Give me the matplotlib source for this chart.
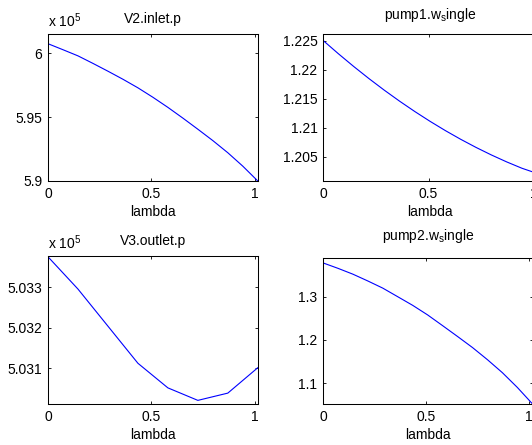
import matplotlib.pyplot as plt
from matplotlib.ticker import FixedLocator, FixedFormatter

plt.rcParams['font.family'] = ['Liberation Sans', 'DejaVu Sans']
plt.rcParams['mathtext.fontset'] = 'custom'
plt.rcParams['mathtext.rm'] = 'Liberation Sans'

# lambda samples
lam = [0, 0.0725, 0.145, 0.2175, 0.29, 0.3625, 0.435, 0.5075,
       0.58, 0.6525, 0.725, 0.7975, 0.87, 0.9425, 1.015]
lam_v3 = [0, 0.145, 0.29, 0.435, 0.58, 0.725, 0.87, 1.015]

# values
v2_inlet_p = [6.0074, 6.0027, 5.9979, 5.9920, 5.9859, 5.9796, 5.9729, 5.9655,
              5.9576, 5.9492, 5.9405, 5.9316, 5.9221, 5.9116, 5.9000]
pump1_w = [1.2251, 1.2228, 1.2206, 1.2185, 1.2165, 1.2146, 1.2128, 1.2111,
           1.2095, 1.2080, 1.2066, 1.2053, 1.2041, 1.2030, 1.2021]
v3_outlet_p = [5.03376, 5.03296, 5.03204, 5.03112, 5.03051, 5.03020, 5.03038, 5.03101]
pump2_w = [1.3777, 1.3652, 1.3517, 1.3360, 1.3195, 1.2997, 1.2798, 1.2577,
           1.2330, 1.2080, 1.1825, 1.1545, 1.1245, 1.0905, 1.0530]

fig = plt.figure(figsize=(5.32, 4.45), dpi=100)
W, H = 532.0, 445.0
FS = 10


def make_ax(l, r, t, b):
    return fig.add_axes([l / W, 1 - b / H, (r - l) / W, (b - t) / H])


panels = [
    (make_ax(48, 258, 34, 181), lam, v2_inlet_p, 'V2.inlet.p', (5.9, 6.015),
     [5.9, 5.95, 6.0], ['5.9', '5.95', '6'], True, 8),
    (make_ax(323, 537.5, 34, 181), lam, pump1_w, 'pump1.w$_\\mathregular{s}$ingle', (1.2008, 1.2262),
     [1.205, 1.21, 1.215, 1.22, 1.225], ['1.205', '1.21', '1.215', '1.22', '1.225'], False, 11),
    (make_ax(48, 258, 256, 404), lam_v3, v3_outlet_p, 'V3.outlet.p', (5.03011, 5.03378),
     [5.031, 5.032, 5.033], ['5.031', '5.032', '5.033'], True, 8),
    (make_ax(323, 532.5, 258, 404), lam, pump2_w, 'pump2.w$_\\mathregular{s}$ingle', (1.0523, 1.389),
     [1.1, 1.2, 1.3], ['1.1', '1.2', '1.3'], False, 13),
]

for ax, x, y, title, ylim, yt, ytl, sci, tpad in panels:
    ax.plot(x, y, color='#0000ff', lw=0.8)
    ax.set_xlim(0, 1.016)
    ax.set_ylim(*ylim)
    ax.xaxis.set_major_locator(FixedLocator([0, 0.5, 1]))
    ax.xaxis.set_major_formatter(FixedFormatter(['0', '0.5', '1']))
    ax.yaxis.set_major_locator(FixedLocator(yt))
    ax.yaxis.set_major_formatter(FixedFormatter(ytl))
    ax.tick_params(direction='in', top=True, right=True, length=2.5, width=0.6,
                   labelsize=FS, pad=4)
    for s in ax.spines.values():
        s.set_linewidth(0.75)
    ax.set_xlabel('lambda', fontsize=FS, labelpad=3)
    ax.set_title(title, fontsize=FS, pad=tpad)
    if sci:
        ax.text(0.0, 1.045, 'x 10$^\\mathregular{5}$', transform=ax.transAxes,
                fontsize=FS, ha='left', va='baseline')

fig.savefig('out.png', dpi=100)
